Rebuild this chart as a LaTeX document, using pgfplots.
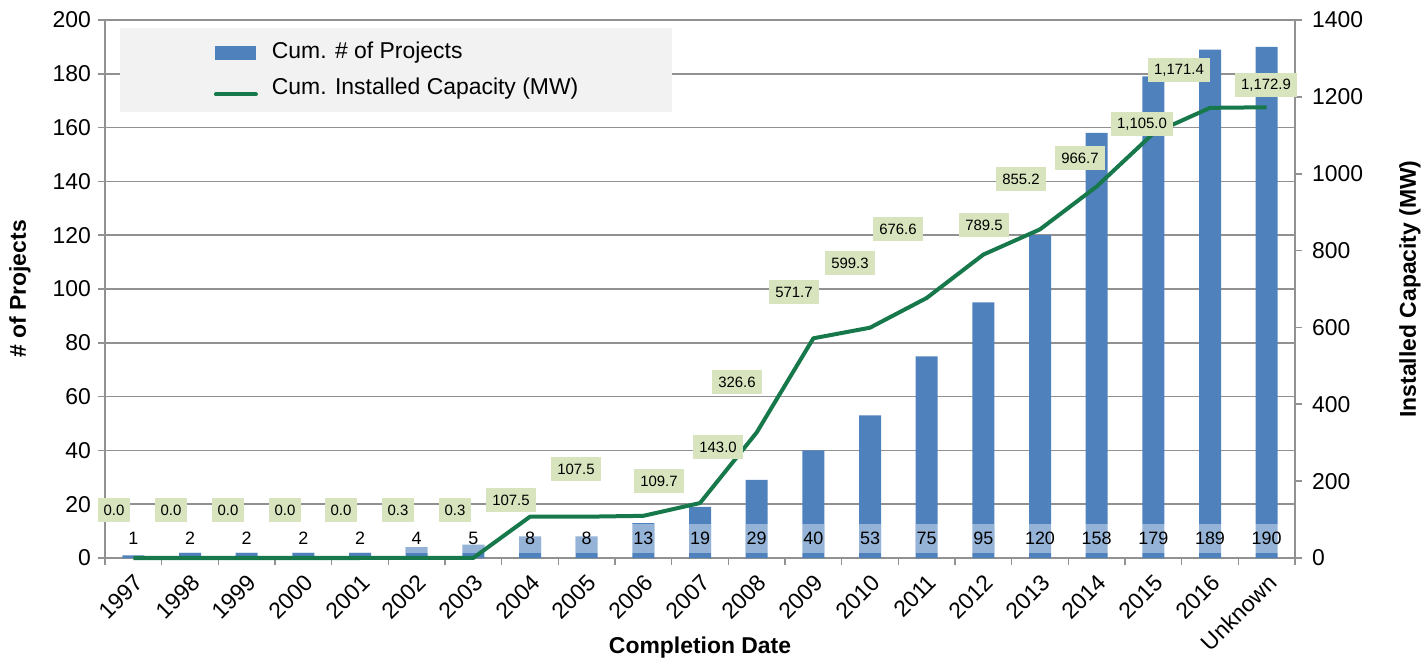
\documentclass[border=0pt]{standalone}
\usepackage{fontspec}
\setmainfont{Liberation Sans}
\usepackage{pgfplots}
\pgfplotsset{compat=1.18}
\usepackage{pgfplotstable}

\definecolor{barblue}{RGB}{79,129,189}
\definecolor{linegreen}{RGB}{23,120,75}
\definecolor{labelgreen}{RGB}{215,228,189}
\definecolor{legendgray}{RGB}{242,242,242}
\definecolor{gridgray}{RGB}{145,145,145}

\pgfplotstableread{
x n
0 1
1 2
2 2
3 2
4 2
5 4
6 5
7 8
8 8
9 13
10 19
11 29
12 40
13 53
14 75
15 95
16 120
17 158
18 179
19 189
20 190
}\bardata

\pgfplotstableread{
x mw
0 0.0
1 0.0
2 0.0
3 0.0
4 0.0
5 0.3
6 0.3
7 107.5
8 107.5
9 109.7
10 143.0
11 326.6
12 571.7
13 599.3
14 676.6
15 789.5
16 855.2
17 966.7
18 1105.0
19 1171.4
20 1172.9
}\capdata

\pgfplotstableread{
lx ly lab
-0.341 124.9 0.0
0.665 124.9 0.0
1.671 124.9 0.0
2.676 124.9 0.0
3.665 124.9 0.0
4.671 124.9 0.3
5.676 124.9 0.3
6.665 150.9 107.5
7.812 231.6 107.5
9.276 200.4 109.7
10.318 288.8 143.0
10.653 458.0 326.6
11.659 692.2 571.7
12.647 767.6 599.3
13.494 856.1 676.6
15.012 866.5 789.5
15.665 986.2 855.2
16.706 1040.9 966.7
17.800 1129.3 1,105.0
18.453 1269.9 1,171.4
19.988 1230.8 1,172.9
}\caplabels

\pgfplotsset{
  common/.style={
    at={(0,0)}, anchor=south west,
    scale only axis, width=595bp, height=269bp,
    xmin=-0.5, xmax=20.5,
    clip=false,
    axis line style={draw=gridgray, line width=0.8bp},
    tick align=outside, major tick length=3.5bp,
    tick style={draw=gridgray, line width=0.8bp},
    ticklabel style={font=\fontsize{11.5}{13}\selectfont, text=black},
    /pgf/number format/assume math mode=true,
    /pgf/number format/1000 sep={},
  }
}

\begin{document}
\begin{tikzpicture}
\path[use as bounding box] (-52.5bp,-50bp) rectangle (660.5bp,279bp);
\begin{axis}[
  common,
  ymin=0, ymax=200,
  axis x line*=bottom, axis y line*=left,
  ytick={0,20,...,200},
  ymajorgrids, grid style={draw=gridgray, line width=0.8bp},
  xtick={-0.5,0.5,...,20.5}, xticklabels={},
  extra x ticks={0,1,...,20},
  extra x tick labels={1997,1998,1999,2000,2001,2002,2003,2004,2005,2006,2007,2008,2009,2010,2011,2012,2013,2014,2015,2016,Unknown},
  extra x tick style={major tick length=0pt, tick label style={yshift=-5.7bp, rotate=45, anchor=north east, inner sep=1bp}},
  every axis y label/.style={at={(axis description cs:-0.0714,0.5)}, rotate=90, anchor=center},
  every axis x label/.style={at={(axis description cs:0.5,-0.1673)}, anchor=center},
  ylabel={\fontsize{11.5}{13}\selectfont\bfseries \# of Projects},
  xlabel={\fontsize{11.5}{13}\selectfont\bfseries Completion Date},
]
\addplot[ybar, bar width=11bp, fill=barblue, draw=none] table[x=x,y=n]{\bardata};
\addplot[draw=none, forget plot, nodes near coords={\pgfplotspointmeta}, point meta=explicit symbolic,
  every node near coord/.append style={anchor=center, fill=white, fill opacity=0.4, text opacity=1,
    minimum width=11bp, minimum height=14.5bp, inner sep=0pt, font=\fontsize{9}{10}\selectfont, text=black}]
  table[x=x, y expr=7.25, meta=n]{\bardata};
\end{axis}
\begin{axis}[
  common,
  ymin=0, ymax=1400,
  axis x line=none, axis y line*=right,
  ytick={0,200,...,1400},
  yticklabel style={xshift=1.5bp},
  every axis y label/.style={at={(axis description cs:1.0966,0.5)}, rotate=90, anchor=center},
  ylabel={\fontsize{11.5}{13}\selectfont\bfseries Installed Capacity (MW)},
  legend style={at={(0.0126,0.985)}, anchor=north west, fill=legendgray, draw=none,
    inner xsep=46.75bp, inner ysep=6.5bp, font=\fontsize{11.5}{13}\selectfont,
    row sep=7bp, column sep=7bp,
    nodes={inner sep=0pt, text height=8.5bp, text depth=2.5bp}},
  legend cell align=left,
]
\addlegendimage{legend image code/.code={\fill[barblue] (0bp,-3.25bp) rectangle (20bp,3.25bp);}}
\addlegendentry{Cum. \# of Projects}
\addplot[linegreen, line width=2bp, line join=round,
  legend image code/.code={\draw[linegreen, line width=2bp, line cap=round] (0bp,-3bp) -- (20bp,-3bp);}]
  table[x=x,y=mw]{\capdata};
\addlegendentry{Cum. Installed Capacity (MW)}
\addplot[draw=none, forget plot, nodes near coords={\pgfplotspointmeta}, point meta=explicit symbolic,
  every node near coord/.append style={anchor=center, fill=labelgreen, inner xsep=3bp, inner ysep=0pt,
    minimum height=12bp, font=\fontsize{7.5}{9}\selectfont, text=black}]
  table[x=lx, y=ly, meta=lab]{\caplabels};
\end{axis}
\end{tikzpicture}
\end{document}
